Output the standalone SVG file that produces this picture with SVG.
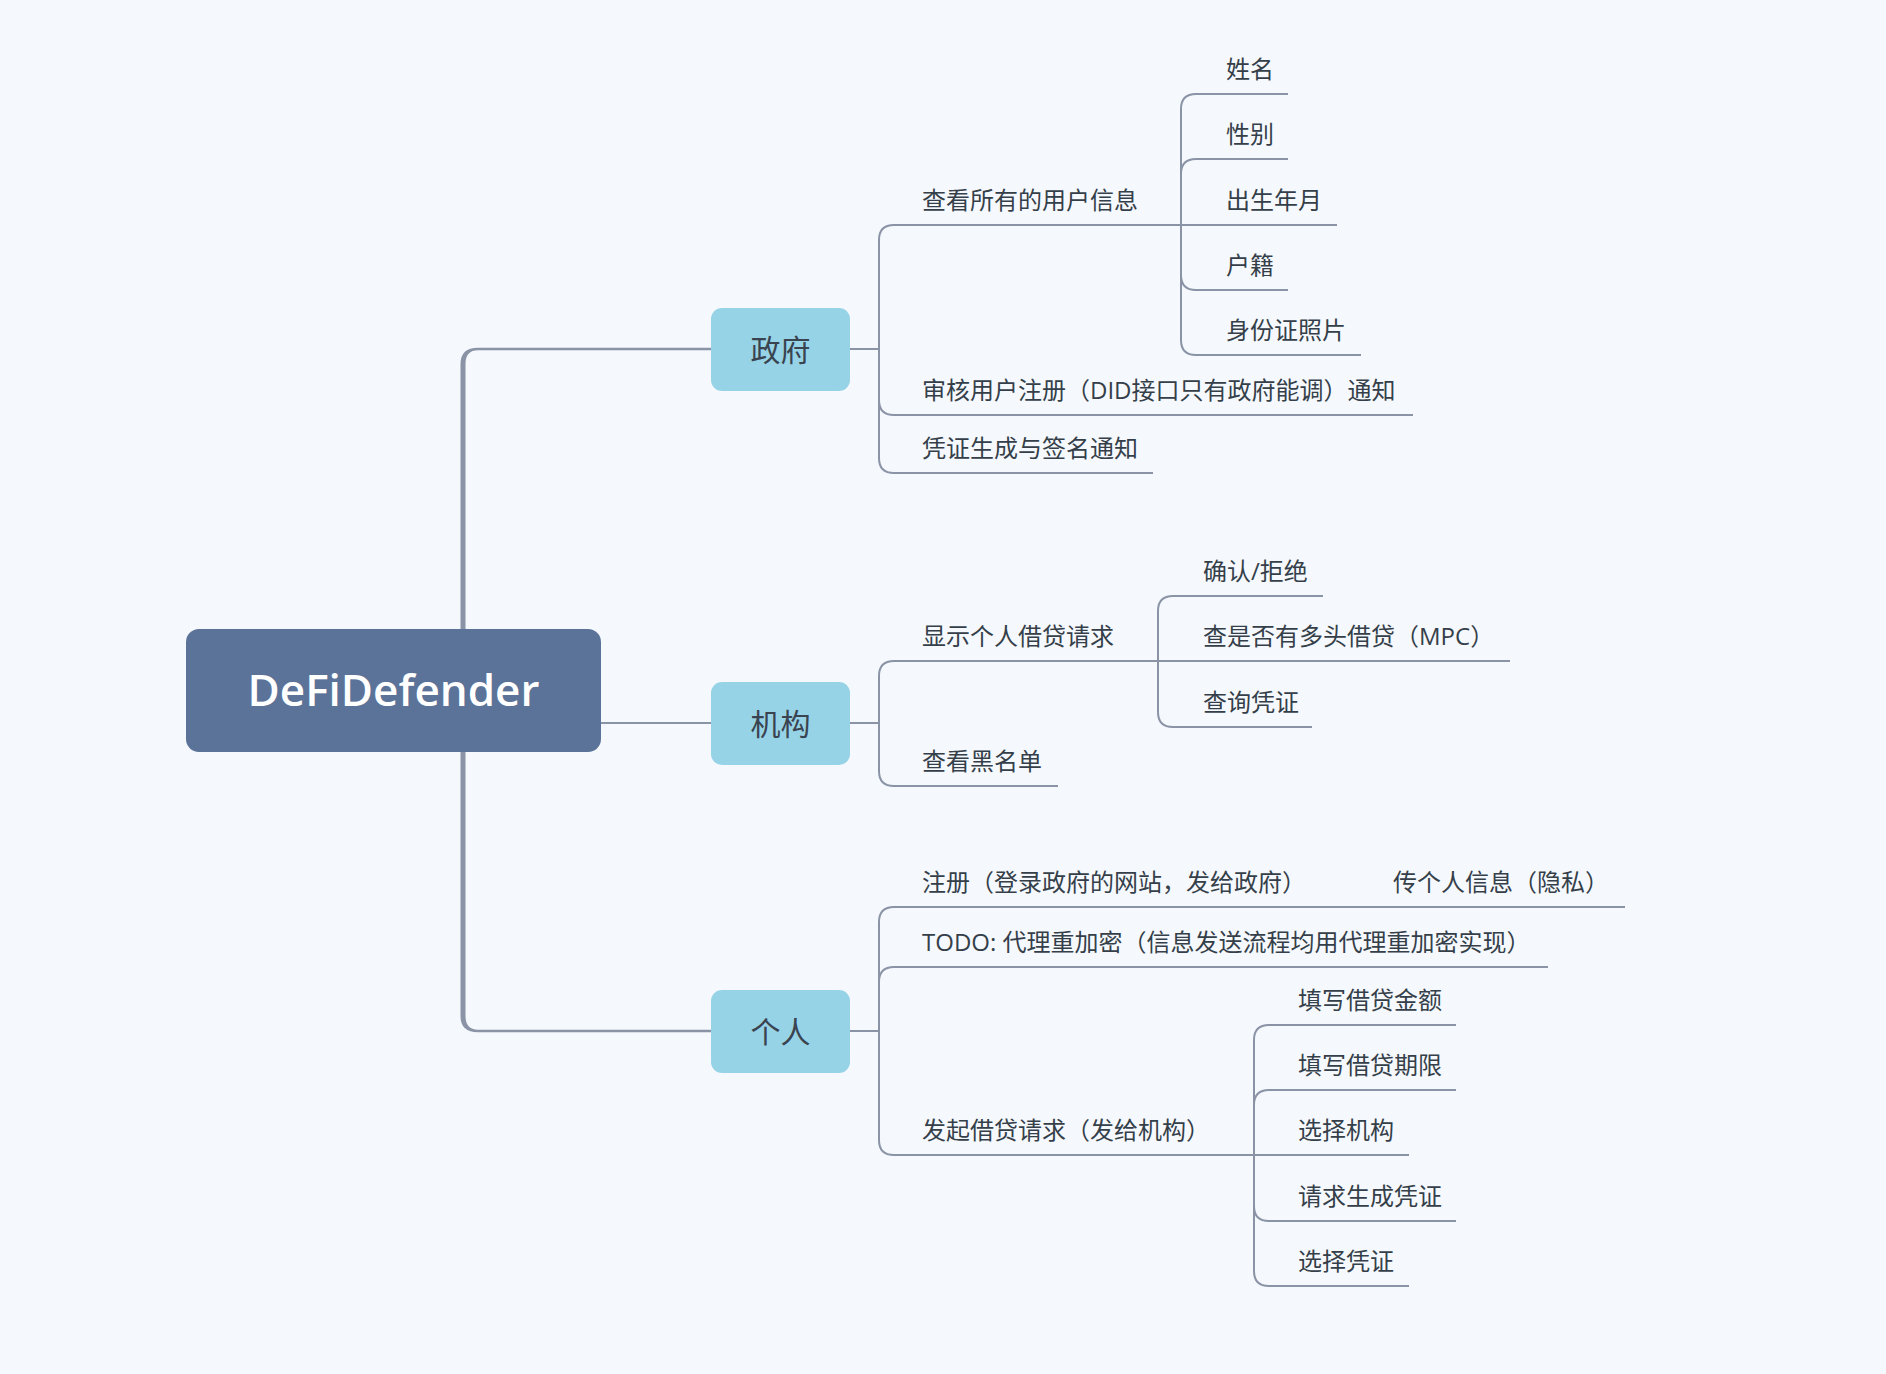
<svg xmlns="http://www.w3.org/2000/svg" width="1886" height="1374" viewBox="0 0 1886 1374">
<style>
.ln{fill:none;stroke:#8A94A6;stroke-width:2}
.tk{fill:#8A94A6;stroke:none}
.t{font-family:"Open Sans","Noto Sans CJK SC",sans-serif;font-size:24px;fill:#353F4A}
.l1{font-family:"Open Sans","Noto Sans CJK SC",sans-serif;font-size:30px;fill:#3A4450;text-anchor:middle}
.rt{font-family:"Open Sans","Noto Sans CJK SC",sans-serif;font-size:44px;font-weight:600;fill:#FFFFFF;text-anchor:middle}
.b1{fill:#97D3E6}
</style>
<rect width="1886" height="1374" fill="#F5F9FD"/>
<g id="connectors">
<path class="tk" d="M460.5,690 V364 Q460.5,347.7 478,347.7 H712 V350.3 H478 Q465.5,350.3 465.5,364 V690 Z"/>
<path class="tk" d="M460.5,690 V1016 Q460.5,1032.3 478,1032.3 H712 V1029.7 H478 Q465.5,1029.7 465.5,1016 V690 Z"/>
<path class="ln" d="M600,723 H712"/>
<path class="ln" d="M849,349 H879"/>
<path class="ln" d="M879,349 V240 Q879,225 894,225 H1181"/>
<path class="ln" d="M879,349 V400 Q879,415 894,415 H1413"/>
<path class="ln" d="M879,349 V458 Q879,473 894,473 H1153"/>
<path class="ln" d="M1181,225 V109 Q1181,94 1196,94 H1288"/>
<path class="ln" d="M1181,225 V174 Q1181,159 1196,159 H1288"/>
<path class="ln" d="M1181,225 H1337"/>
<path class="ln" d="M1181,225 V275 Q1181,290 1196,290 H1288"/>
<path class="ln" d="M1181,225 V340 Q1181,355 1196,355 H1361"/>
<path class="ln" d="M849,723 H879"/>
<path class="ln" d="M879,723 V676 Q879,661 894,661 H1158"/>
<path class="ln" d="M879,723 V771 Q879,786 894,786 H1058"/>
<path class="ln" d="M1158,661 V611 Q1158,596 1173,596 H1323"/>
<path class="ln" d="M1158,661 H1510"/>
<path class="ln" d="M1158,661 V712 Q1158,727 1173,727 H1312"/>
<path class="ln" d="M849,1031 H879"/>
<path class="ln" d="M879,1031 V922 Q879,907 894,907 H1625"/>
<path class="ln" d="M879,1031 V982 Q879,967 894,967 H1548"/>
<path class="ln" d="M879,1031 V1140 Q879,1155 894,1155 H1254"/>
<path class="ln" d="M1254,1155 V1040 Q1254,1025 1269,1025 H1456"/>
<path class="ln" d="M1254,1155 V1105 Q1254,1090 1269,1090 H1456"/>
<path class="ln" d="M1254,1155 H1409"/>
<path class="ln" d="M1254,1155 V1206 Q1254,1221 1269,1221 H1456"/>
<path class="ln" d="M1254,1155 V1271 Q1254,1286 1269,1286 H1409"/>
</g>
<g id="root"><rect x="186" y="629" width="415" height="123" rx="13" fill="#5B7399"/><text class="rt" x="393.5" y="706">DeFiDefender</text></g>
<g id="zhengfu"><rect class="b1" x="711" y="308" width="139" height="83" rx="11"/><text class="l1" x="780.5" y="361">政府</text></g>
<g id="jigou"><rect class="b1" x="711" y="682" width="139" height="83" rx="11"/><text class="l1" x="780.5" y="735">机构</text></g>
<g id="geren"><rect class="b1" x="711" y="990" width="139" height="83" rx="11"/><text class="l1" x="780.5" y="1043">个人</text></g>
<g id="n-chakan"><text class="t" x="922" y="209">查看所有的用户信息</text></g>
<g id="n-xingming"><text class="t" x="1226" y="78">姓名</text></g>
<g id="n-xingbie"><text class="t" x="1226" y="143">性别</text></g>
<g id="n-chusheng"><text class="t" x="1226" y="209">出生年月</text></g>
<g id="n-huji"><text class="t" x="1226" y="274">户籍</text></g>
<g id="n-shenfen"><text class="t" x="1226" y="339">身份证照片</text></g>
<g id="n-shenhe"><text class="t" x="922" y="399">审核用户注册（DID接口只有政府能调）通知</text></g>
<g id="n-pingzheng"><text class="t" x="922" y="457">凭证生成与签名通知</text></g>
<g id="n-xianshi"><text class="t" x="922" y="645">显示个人借贷请求</text></g>
<g id="n-queren"><text class="t" x="1203" y="580">确认/拒绝</text></g>
<g id="n-mpc"><text class="t" x="1203" y="645">查是否有多头借贷（MPC）</text></g>
<g id="n-chaxun"><text class="t" x="1203" y="711">查询凭证</text></g>
<g id="n-heimingdan"><text class="t" x="922" y="770">查看黑名单</text></g>
<g id="n-zhuce"><text class="t" x="922" y="891">注册（登录政府的网站，发给政府）</text></g>
<g id="n-chuan"><text class="t" x="1393" y="891">传个人信息（隐私）</text></g>
<g id="n-todo"><text class="t" x="922" y="951">TODO: 代理重加密（信息发送流程均用代理重加密实现）</text></g>
<g id="n-faqi"><text class="t" x="922" y="1139">发起借贷请求（发给机构）</text></g>
<g id="n-jine"><text class="t" x="1298" y="1009">填写借贷金额</text></g>
<g id="n-qixian"><text class="t" x="1298" y="1074">填写借贷期限</text></g>
<g id="n-xuanze"><text class="t" x="1298" y="1139">选择机构</text></g>
<g id="n-qingqiu"><text class="t" x="1298" y="1205">请求生成凭证</text></g>
<g id="n-xuanzepz"><text class="t" x="1298" y="1270">选择凭证</text></g>
</svg>
